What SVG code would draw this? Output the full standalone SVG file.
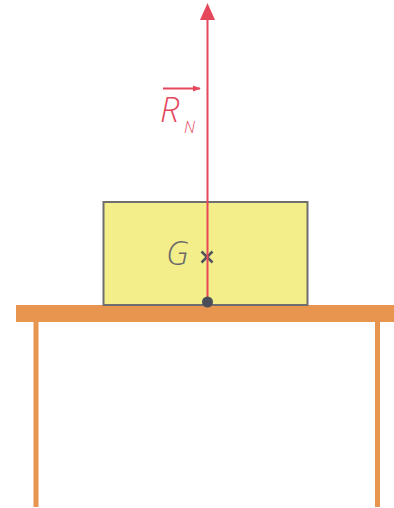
<svg xmlns="http://www.w3.org/2000/svg" width="394" height="508" viewBox="0 0 394 508">
<style>
.table{fill:#e8954f}
.leg{stroke:#e8954f;stroke-width:5}
.vec{stroke:#e5475b;fill:none;stroke-width:2}
.lbl{font-family:"Open Sans","DejaVu Sans",sans-serif;font-style:italic;font-weight:300}
</style>
<defs>
<marker id="ah" viewBox="0 0 10 10" refX="9" refY="5" markerWidth="8" markerHeight="8" orient="auto" markerUnits="userSpaceOnUse">
<path d="M0,1 L10,5 L0,9 Z" fill="#e5475b"/>
</marker>
</defs>
<rect width="394" height="508" fill="#ffffff"/>
<g id="table">
<rect class="table" x="16" y="305" width="378" height="17"/>
<line class="leg" x1="36" y1="322" x2="36" y2="507"/>
<line class="leg" x1="377.5" y1="322" x2="377.5" y2="507"/>
</g>
<g id="box">
<rect x="103.5" y="202" width="204" height="103" fill="#f4ee8a" stroke="#6f6f6f" stroke-width="2"/>
<text class="lbl" x="166" y="265" font-size="33" fill="#6a6a6a">G</text>
<path d="M201.5,251.5 L212.5,262.5 M212.5,251.5 L201.5,262.5" stroke="#4f535c" stroke-width="2.5"/>
</g>
<g id="connectors">
<line class="vec" x1="207.5" y1="302" x2="207.5" y2="18"/>
<path d="M207.5,3 L215,20 L200,20 Z" fill="#e5475b"/>
<circle cx="207.5" cy="302" r="5.5" fill="#4a4e58"/>
</g>
<g id="label-RN">
<text class="lbl" x="160" y="122" font-size="34" fill="#e5475b">R</text>
<text class="lbl" x="184" y="133" font-size="16" fill="#e5475b">N</text>
<line x1="163" y1="88.5" x2="200" y2="88.5" stroke="#e5475b" stroke-width="1.8" marker-end="url(#ah)"/>
</g>
</svg>
